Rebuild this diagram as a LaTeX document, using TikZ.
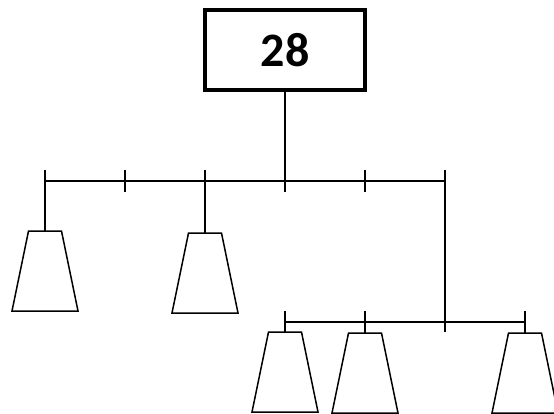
\documentclass[tikz,border=0pt]{standalone}
\usepackage{fontspec}
\setmainfont{Carlito}
\usetikzlibrary{shapes.geometric}
\tikzset{
  wire/.style={line width=1.5pt},
  lamp/.style={draw, line width=1.5pt, trapezium, trapezium angle=63.4, trapezium stretches=true,
    minimum width=66pt, minimum height=80pt, inner sep=1pt, outer sep=0pt},
}
\begin{document}
\begin{tikzpicture}[x=1pt,y=-1pt]
  \useasboundingbox (0,0) rectangle (554,414);
  \node[draw, line width=4pt, minimum width=160pt, minimum height=80pt, inner sep=0pt,
    font=\bfseries\fontsize{48}{48}\selectfont] (total) at (285,50) {28};

  % upper bar and lower bar
  \foreach \i in {0,...,5} \coordinate (b\i) at (45+80*\i,181);
  \foreach \i in {0,...,3} \coordinate (c\i) at (285+80*\i,322);
  \draw[wire] (b0) -- (b5);
  \draw[wire] (c0) -- (c3);

  \node[lamp, anchor=north] (lamp1) at (45,231) {};
  \node[lamp, anchor=north] (lamp2) at (205,233) {};
  \node[lamp, anchor=north] (lamp3) at (285,332) {};
  \node[lamp, anchor=north] (lamp4) at (365,333) {};
  \node[lamp, anchor=north] (lamp5) at (525,333) {};

  \draw[wire] (total.south) -- (b3) -- ++(0,11);
  \foreach \i in {1,4} \draw[wire] (b\i) ++(0,-11) -- ++(0,22);
  \draw[wire] (b0) ++(0,-11) -- (lamp1.north);
  \draw[wire] (b2) ++(0,-11) -- (lamp2.north);
  \draw[wire] (b5) ++(0,-11) -- (c2) -- ++(0,10);
  \draw[wire] (c0) ++(0,-11) -- (lamp3.north);
  \draw[wire] (c1) ++(0,-11) -- (lamp4.north);
  \draw[wire] (c3) ++(0,-11) -- (lamp5.north);
\end{tikzpicture}
\end{document}
